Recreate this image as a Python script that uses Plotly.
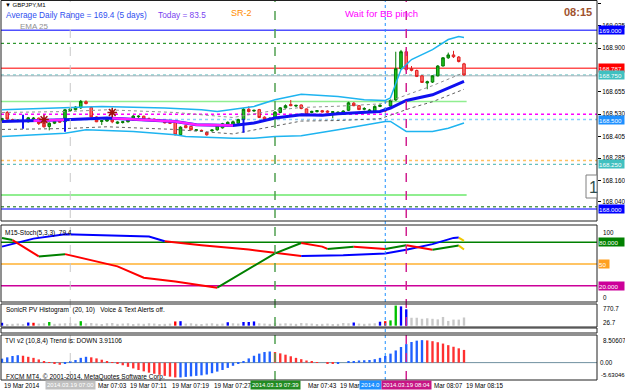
import plotly.graph_objects as go

FONT = "Liberation Sans"
W, H = 625, 392

# ---------------- data (GBPJPY M1, 19 Mar 2014, bars from 06:47) ----------------
bar_minutes = list(range(89))  # minutes after 06:47

open_ = [168.500,168.540,168.500,168.492,168.497,168.488,168.505,168.508,168.490,168.462,
         168.480,168.492,168.488,168.550,168.556,168.566,168.600,168.568,168.515,168.490,
         168.492,168.505,168.480,168.484,168.488,168.498,168.516,168.519,168.505,168.503,
         168.496,168.490,168.484,168.488,168.416,168.466,168.462,168.440,168.440,168.428,
         168.438,168.443,168.454,168.466,168.470,168.480,168.500,168.558,168.548,168.556,
         168.514,168.500,168.505,168.540,168.566,168.585,168.576,168.582,168.560,168.540,
         168.545,168.550,168.548,168.540,168.538,168.530,168.552,168.592,168.578,168.558,
         168.546,168.546,168.574,168.560,168.576,168.610,168.785,168.880,168.785,168.775,
         168.745,168.705,168.710,168.745,168.800,168.846,168.862,168.850,168.812]
high_ = [168.510,168.548,168.505,168.500,168.500,168.515,168.514,168.512,168.495,168.485,
         168.495,168.498,168.560,168.565,168.575,168.610,168.608,168.575,168.518,168.498,
         168.505,168.530,168.490,168.492,168.500,168.525,168.524,168.522,168.512,168.506,
         168.500,168.495,168.490,168.492,168.462,168.470,168.465,168.446,168.444,168.432,
         168.445,168.470,168.482,168.490,168.495,168.505,168.565,168.575,168.556,168.560,
         168.518,168.512,168.548,168.570,168.585,168.610,168.582,168.585,168.562,168.550,
         168.552,168.554,168.552,168.548,168.546,168.552,168.600,168.598,168.582,168.570,
         168.560,168.580,168.586,168.566,168.612,168.880,168.890,168.895,168.800,168.780,
         168.750,168.718,168.748,168.805,168.850,168.875,168.885,168.856,168.818]
low_ = [168.490,168.500,168.488,168.486,168.485,168.484,168.498,168.470,168.455,168.440,
        168.475,168.482,168.482,168.545,168.552,168.560,168.585,168.512,168.486,168.470,
        168.488,168.480,168.475,168.478,168.484,168.494,168.510,168.500,168.494,168.490,
        168.488,168.478,168.475,168.412,168.410,168.452,168.440,168.436,168.434,168.410,
        168.432,168.438,168.450,168.460,168.466,168.475,168.470,168.540,168.544,168.510,
        168.496,168.496,168.500,168.536,168.562,168.575,168.570,168.558,168.520,168.535,
        168.540,168.540,168.538,168.508,168.532,168.526,168.548,168.575,168.554,168.552,
        168.540,168.540,168.570,168.540,168.572,168.605,168.780,168.770,168.770,168.738,
        168.705,168.670,168.705,168.742,168.798,168.840,168.845,168.820,168.745]
close_ = [168.505,168.503,168.492,168.497,168.490,168.510,168.508,168.478,168.460,168.480,
          168.490,168.486,168.555,168.560,168.570,168.602,168.590,168.515,168.488,168.494,
          168.502,168.488,168.486,168.488,168.498,168.520,168.519,168.503,168.498,168.493,
          168.492,168.482,168.480,168.415,168.458,168.455,168.443,168.443,168.438,168.415,
          168.442,168.466,168.477,168.485,168.488,168.500,168.558,168.545,168.552,168.512,
          168.500,168.508,168.542,168.566,168.578,168.578,168.580,168.562,168.528,168.546,
          168.550,168.543,168.542,168.544,168.541,168.548,168.594,168.578,168.556,168.562,
          168.554,168.574,168.580,168.548,168.608,168.785,168.880,168.780,168.776,168.742,
          168.708,168.712,168.745,168.800,168.846,168.862,168.852,168.825,168.750]

# EMA 25 (read at key points)
ema_idx = [0, 7, 12, 20, 33, 37, 44, 48, 52, 57, 61, 64, 72, 74, 77, 82, 86, 88]
ema_val = [168.490,168.494,168.499,168.509,168.490,168.471,168.467,168.481,168.509,168.527,
           168.525,168.533,168.546,168.565,168.607,168.639,168.686,168.714]
ma2_seg1_idx = [6, 12]
ma2_seg1_val = [168.494, 168.499]
ma2_seg2_idx = [21, 33, 37, 44]
ma2_seg2_val = [168.508, 168.490, 168.471, 168.467]

bb_up_idx = [0,12,19,31,38,41,48,52,57,64,69,73,74,76,78,82,85,87,88]
bb_up_val = [168.555,168.565,168.574,168.565,168.555,168.546,168.574,168.611,168.642,168.630,
             168.611,168.607,168.622,168.780,168.836,168.892,168.948,168.965,168.960]
bb_lo_idx = [0,12,16,25,33,35,44,48,52,57,64,73,74,77,82,85,88]
bb_lo_val = [168.405,168.424,168.443,168.434,168.415,168.405,168.396,168.396,168.405,168.410,
             168.443,168.490,168.490,168.434,168.434,168.452,168.481]
env_idx = [0, 12, 20, 33, 44, 52, 57, 64, 72, 74, 78, 82, 88]
env_up_val = [168.540,168.545,168.555,168.540,168.512,168.552,168.568,168.575,168.588,168.605,
              168.648,168.690,168.763]
env_lo_val = [168.445,168.450,168.460,168.445,168.420,168.462,168.492,168.495,168.505,168.525,
              168.566,168.600,168.670]

fractal_idx = [8, 21]
fractal_val = [168.500, 168.540]
arrow_idx = [4, 12, 46]
arrow_val = [168.488, 168.471, 168.466]

price_ticks = [169.150, 169.025, 168.900, 168.655, 168.530, 168.405, 168.285, 168.160, 168.040]
price_boxes = [169.000, 168.787, 168.750, 168.500, 168.250, 168.000]

# Stochastic (M15 on M1) segments
stochA_segs = [("up",   [0, 6, 12, 22, 28, 31], [74, 85, 91, 89, 88, 81.5]),
               ("down", [31, 38, 47, 53, 57], [81.5, 76, 70, 65, 61]),
               ("up",   [57, 65, 73, 77, 82, 86, 87], [61, 62, 64.6, 69.7, 77.4, 86, 86.5]),
               ("cur",  [87, 88], [86.5, 82])]
stochB_segs = [("up",   [0, 2], [86, 83]),
               ("down", [2, 7], [83, 60.5]),
               ("up",   [7, 12], [60.5, 63.6]),
               ("down", [12, 22, 27, 33, 41], [63.6, 46.7, 31, 26, 17.4]),
               ("up",   [41, 52, 57], [17.4, 64.6, 79]),
               ("down", [57, 61, 62], [79, 74, 70.8]),
               ("up",   [62, 67], [70.8, 73.8]),
               ("down", [67, 73], [73.8, 70.8]),
               ("up",   [73, 77], [70.8, 75.9]),
               ("down", [77, 82], [75.9, 69.7]),
               ("up",   [82, 87], [69.7, 75.4]),
               ("cur",  [87, 88], [75.4, 70])]

# SonicR PV histogram
hist_val = [110, 60, 70, 80, 60, 120, 110, 80, 90, 140,
            70, 80, 90, 100, 80, 170, 90, 100, 80, 60,
            90, 100, 70, 80, 90, 60, 80, 70, 90, 80,
            60, 70, 80, 160, 170, 80, 90, 70, 60, 80,
            90, 70, 80, 130, 90, 80, 140, 140, 160, 90,
            80, 70, 110, 80, 90, 80, 70, 100, 90, 80,
            60, 70, 80, 60, 70, 100, 90, 120, 80, 70,
            80, 90, 150, 170, 200, 760, 730, 620, 300, 300,
            260, 280, 260, 240, 330, 180, 230, 230, 310]
hist_colored = {0: "b", 5: "b", 6: "r", 9: "g", 15: "g", 33: "r", 34: "b", 43: "b", 46: "b",
                47: "b", 48: "b", 67: "b", 72: "b", 73: "r", 74: "g", 75: "g", 76: "b", 77: "b"}

# TVI v2 histogram
tvi = [1.5, 2.0, 2.5, 2.8, 2.6, 2.2, 1.8, 1.2, 0.6, 0.2,
       -0.3, -0.8, -0.5, 0.3, 1.0, 1.8, 2.2, 2.0, 1.6, 1.1,
       0.6, 0.2, -0.4, -1.0, -1.6, -2.2, -2.8, -3.3, -3.8, -4.2,
       -4.6, -5.0, -5.3, -5.6, -5.6, -5.4, -5.2, -5.0, -4.8, -4.5,
       -4.0, -3.4, -2.8, -2.0, -1.2, -0.4, 0.6, 1.6, 2.6, 3.4,
       4.0, 4.2, 4.0, 3.5, 3.0, 2.4, 1.8, 1.3, 0.8, 0.4,
       0.2, 0.0, -0.2, -0.3, -0.2, 0.0, 0.3, 0.6, 0.8, 0.9,
       1.0, 1.3, 1.8, 2.5, 3.4, 4.6, 5.9, 7.0, 7.8, 8.3,
       8.5, 8.4, 8.1, 7.7, 7.2, 6.6, 6.0, 5.4, 4.8]

# time axis: tick index, visible text (parts hidden under the object boxes are left out)
time_label_idx = [0, 16, 24, 32, 40, 56, 64, 80, 88]
time_label_txt = ["19 Mar 2014", "Mar 07:03", "19 Mar 07:11", "19 Mar 07:19", "19 Mar 07:27",
                  "Mar 07:43", "19 Mar", "Mar 08:07", "19 Mar 08:15"]
time_label_hidden = ["", "19 ", "", "", "", "19 ", "", "19 ", ""]
vline_idx = [13, 52, 73, 77]
vline_txt = ["2014.03.19 07:00", "2014.03.19 07:39", "2014.0", "2014.03.19 08:04"]

# ---------------- helpers ----------------
def px(x):
    return x / W

def py(y):
    return 1 - y / H

X0, X1 = 1, 597
XR = [(X0 - 2) / 5.25, (X1 - 2) / 5.25]

fig = go.Figure()

# ---- price panel ----
fig.add_trace(go.Candlestick(
    x=bar_minutes, open=open_, high=high_, low=low_, close=close_,
    increasing=dict(line=dict(color="#007a00", width=1), fillcolor="#20c020"),
    decreasing=dict(line=dict(color="#e02020", width=1), fillcolor="#ff6a6a"),
    whiskerwidth=0, xaxis="x", yaxis="y", hoverinfo="skip"))

def line(xs, ys, color, width=1.5, dash="solid", yaxis="y"):
    fig.add_trace(go.Scatter(x=xs, y=ys, mode="lines", yaxis=yaxis, xaxis="x",
                             line=dict(color=color, width=width, dash=dash), hoverinfo="skip"))

line(bb_up_idx, bb_up_val, "#1eb4f0", 1.5)
line(bb_lo_idx, bb_lo_val, "#1eb4f0", 1.5)
line(env_idx, env_up_val, "#909090", 1, "dot")
line(env_idx, env_lo_val, "#606060", 1, "dot")
line(ema_idx, ema_val, "#1010f0", 3)
line(ma2_seg1_idx, ma2_seg1_val, "#ff20ff", 2.5)
line(ma2_seg2_idx, ma2_seg2_val, "#ff20ff", 2.5)

fig.add_trace(go.Scatter(x=fractal_idx, y=fractal_val, mode="markers", yaxis="y",
                         marker=dict(symbol="asterisk-open", size=8, color="#a01010",
                                     line=dict(color="#a01010", width=1.5)), hoverinfo="skip"))
fig.add_trace(go.Scatter(x=arrow_idx, y=arrow_val, mode="markers", yaxis="y",
                         marker=dict(symbol="line-ns-open", size=10, color="#1010f0",
                                     line=dict(color="#1010f0", width=2)), hoverinfo="skip"))

# ---- stochastic ----
seg_col = {"up": "#0000ff", "down": "#ff0000", "cur": "#f0c800"}
segB_col = {"up": "#008000", "down": "#ff0000", "cur": "#f0c800"}
for st, xs, ys in stochA_segs:
    line(xs, ys, seg_col[st], 2, yaxis="y2")
for st, xs, ys in stochB_segs:
    line(xs, ys, segB_col[st], 2, yaxis="y2")

# ---- histogram ----
hc = {"b": "#0000ff", "r": "#ff0000", "g": "#00c000"}
hist_cols = [hc.get(hist_colored.get(i, "n"), "#c8c8c8") for i in bar_minutes]
fig.add_trace(go.Bar(x=bar_minutes, y=hist_val, marker=dict(color=hist_cols, line=dict(width=0)),
                     width=0.45, xaxis="x", yaxis="y3", hoverinfo="skip"))

# ---- TVI ----
tvi_cols = ["#2060ff" if (i == 0 or tvi[i] >= tvi[i - 1]) else "#ff3030" for i in range(len(tvi))]
fig.add_trace(go.Bar(x=bar_minutes, y=tvi, marker=dict(color=tvi_cols, line=dict(width=0)),
                     width=0.45, xaxis="x", yaxis="y4", hoverinfo="skip"))

# ---------------- shapes ----------------
shapes = []
def hline(val, color, width=1, dash="solid", yref="y", x1=None):
    shapes.append(dict(type="line", xref="x", yref=yref, x0=XR[0], x1=XR[1] if x1 is None else x1,
                       y0=val, y1=val, line=dict(color=color, width=width, dash=dash), layer="below"))

hline(169.000, "#5050ff", 1.5)
hline(168.927, "#008000", 1, "dot")
hline(168.787, "#ff5050", 1.5)
hline(168.750, "#60c0c0", 1, "dot")
hline(168.745, "#a0b0b8", 1)
hline(168.602, "#90ee90", 1.5, x1=88.5)
hline(168.530, "#ff00ff", 1.5, "dot")
hline(168.500, "#87cefa", 1.5, "dot")
hline(168.271, "#ffc060", 1.5, "dot")
hline(168.250, "#40b0b0", 1, "dot")
hline(168.078, "#90ee90", 2, x1=88.5)
hline(168.012, "#006400", 1, "dot")
hline(168.000, "#5050ff", 1.5)

hline(80, "#008000", 1.5, yref="y2")
hline(50, "#ffb030", 1.5, yref="y2")
hline(20, "#cc0099", 1.5, yref="y2")
hline(0, "#7090a0", 1, yref="y4")

vstyles = [("#c8c8c8", 1, "dash"), ("#50a050", 1.5, "dash"), ("#1e90ff", 1, "dot"), ("#d0208f", 1.5, "dash")]
for xi, (c, w, d) in zip(vline_idx, vstyles):
    shapes.append(dict(type="line", xref="x", yref="paper", x0=xi, x1=xi, y0=py(380), y1=py(1),
                       line=dict(color=c, width=w, dash=d), layer="above"))

for (t, b) in [(0.5, 221), (225, 302), (304, 327), (328, 333), (335, 380)]:
    shapes.append(dict(type="rect", xref="paper", yref="paper", x0=px(X0), x1=px(X1),
                       y0=py(b), y1=py(t), line=dict(color="#202020", width=1), layer="above"))
# text label object at right edge
shapes.append(dict(type="rect", xref="paper", yref="paper", x0=px(586), x1=px(597),
                   y0=py(198), y1=py(175), line=dict(color="#808080", width=1),
                   fillcolor="white", layer="above"))

# ---------------- annotations ----------------
anns = []
def ann(text, x, y, size=7, color="black", xanchor="left", yanchor="middle", bg=None,
        xref="paper", yref="paper", bold=False, width=None, xshift=0, pad=1, height=None):
    d = dict(text=("<b>%s</b>" % text) if bold else text, x=x, y=y, xref=xref, yref=yref,
             xanchor=xanchor, yanchor=yanchor, showarrow=False, xshift=xshift,
             font=dict(family=FONT, size=size, color=color), borderpad=pad)
    if bg:
        d["bgcolor"] = bg
    if width:
        d["width"] = width
        d["align"] = "left"
    if height:
        d["height"] = height
    anns.append(d)

ann("\u25bc GBPJPY,M1", px(3), py(5), 6)
ann("Average Daily Range = 169.4 (5 days)", px(4), py(15), 8.3, "#3050f0")
ann("Today = 83.5", px(156), py(15), 8.3, "#7a3ff0")
ann("EMA 25", px(18), py(27), 8, "#909090")
ann("SR-2", px(229), py(13), 9, "#ff8c00")
ann("Wait for BB pinch", px(343), py(13), 9.5, "#ff00ff")
ann("08:15", px(594), py(12), 11, "#a0522d", xanchor="right", bold=True)
ann("1", px(587), py(187), 16, "#2f4f4f")

ann("M15-Stoch(5,3,3)  79.4", px(3), py(233), 6.5)
ann("SonicR PV Histogram  (20, 10)   Voice &amp; Text Alerts off.", px(4), py(310), 6.5)
ann("TVI v2 (10,8,4) Trend is: DOWN 3.91106", px(3), py(341), 6.5)
ann("FXCM MT4, \u00a9 2001-2014, MetaQuotes Software Corp.", px(4), py(377), 6.5)

# price boxes on axis
box_cols = ["#0000ff", "#ff0000", "#40c0c0", "#1e90ff", "#40c0c0", "#0000ff"]
for v, c in zip(price_boxes, box_cols):
    ann("%.3f" % v, px(598), v, 6.2, "white", bg=c, yref="y", width=25, pad=0, height=8)

# stochastic / histogram / TVI axis labels
ann("100", px(601), py(232), 6.3)
ann("80.000", px(598), 80, 6.2, "white", bg="#008000", yref="y2", width=25, pad=0, height=8)
ann("50", px(598), 50, 6.2, "white", bg="#ffa020", yref="y2", width=10, pad=0, height=8)
ann("20.000", px(598), 20, 6.2, "white", bg="#cc0099", yref="y2", width=25, pad=0, height=8)
ann("0", px(601), py(297), 6.3)
ann("770.7", px(601), py(308), 6.3)
ann("26.7", px(601), py(322), 6.3)
ann("8.50607", px(601), py(340), 6.3)
ann("0.00", px(598), 0, 6.3, "black", yref="y4")
ann("-5.63046", px(599), py(375), 6)

# time axis
for xi, t, hid in zip(time_label_idx, time_label_txt, time_label_hidden):
    ann(t, xi, py(385), 6.3, xref="x", xshift=(3.3 * len(hid)))
vbg = ["#c0c0c0", "#228b22", "#1e90ff", "#c71585"]
for k, (xi, t, c) in enumerate(zip(vline_idx, vline_txt, vbg)):
    if k == 2:
        ann(t, xi, py(385), 6, "white", xanchor="right", bg=c, xref="x", xshift=-3)
    else:
        ann(t, xi, py(385), 6, "white", xanchor="center", bg=c, xref="x")

# ---------------- layout ----------------
common_y = dict(showgrid=False, zeroline=False, fixedrange=True, side="right", anchor="x",
                showline=False)
fig.update_layout(
    width=W, height=H, margin=dict(l=0, r=0, t=0, b=0),
    paper_bgcolor="white", plot_bgcolor="white", showlegend=False, barmode="overlay",
    font=dict(family=FONT, size=7, color="black"),
    xaxis=dict(domain=[px(X0), px(X1)], range=XR, showgrid=False, zeroline=False,
               showticklabels=False, ticks="", showline=False, anchor="y4",
               rangeslider=dict(visible=False), fixedrange=True),
    yaxis=dict(domain=[py(221), py(0.5)], range=[167.9327, 169.1666],
               tickvals=price_ticks, ticktext=["%.3f" % v for v in price_ticks],
               ticks="outside", ticklen=3, tickcolor="black",
               tickfont=dict(family=FONT, size=6.3, color="black"), **common_y),
    yaxis2=dict(domain=[py(302), py(225)], range=[-2.4, 103.8], showticklabels=False, **common_y),
    yaxis3=dict(domain=[py(327), py(304)], range=[-50, 820], showticklabels=False, **common_y),
    yaxis4=dict(domain=[py(380), py(335)], range=[-6.57, 10.44], showticklabels=False, **common_y),
    shapes=shapes, annotations=anns,
)

fig.write_html("out.html")
